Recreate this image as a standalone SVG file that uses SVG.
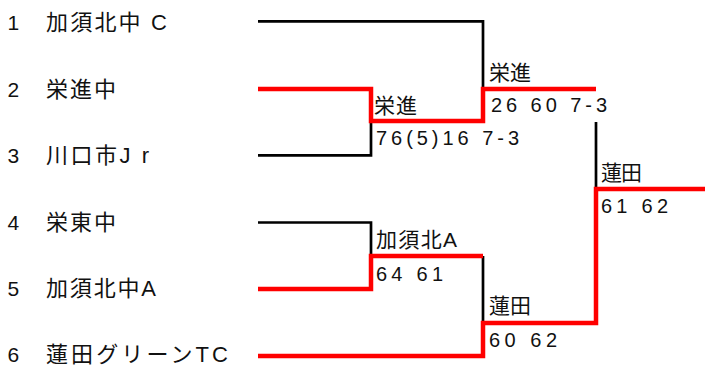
<svg xmlns="http://www.w3.org/2000/svg" width="705" height="367" viewBox="0 0 705 367">
<style>
text{font-family:"Liberation Sans","Noto Sans CJK JP",sans-serif;font-size:20px;fill:#111}
.num{font-size:21px}
.n{font-size:22px}
.k{font-size:21px}
.b{fill:none;stroke:#000;stroke-width:2.7}
.r{fill:none;stroke:#f00;stroke-width:4.5;stroke-linejoin:miter;stroke-linecap:butt}
</style>
<rect width="705" height="367" fill="#fff"/>
<g id="connectors">
<path class="b" d="M258,21.3 H483 V89"/>
<path class="b" d="M258,155.3 H371 V121"/>
<path class="b" d="M258,222.5 H371 V256"/>
<path class="b" d="M483,256 V323"/>
<path class="b" d="M596,122 V189"/>
<path class="r" d="M258,89 H371 V121 H483 V89 H596"/>
<path class="r" d="M258,289 H371 V256 H483"/>
<path class="r" d="M258,356 H483 V323 H596 V189 H705"/>
</g>
<g id="team1"><text class="num" x="7.5" y="30">1</text><text class="n" x="46" y="30" textLength="121" lengthAdjust="spacing">加須北中 C</text></g>
<g id="team2"><text class="num" x="7.5" y="96.5">2</text><text class="n" x="46" y="96.5" textLength="70" lengthAdjust="spacing">栄進中</text></g>
<g id="team3"><text class="num" x="7.5" y="163">3</text><text class="n" x="46" y="163" textLength="103" lengthAdjust="spacing">川口市J r</text></g>
<g id="team4"><text class="num" x="7.5" y="229.5">4</text><text class="n" x="46" y="229.5" textLength="70" lengthAdjust="spacing">栄東中</text></g>
<g id="team5"><text class="num" x="7.5" y="296">5</text><text class="n" x="46" y="296" textLength="110" lengthAdjust="spacing">加須北中A</text></g>
<g id="team6"><text class="num" x="7.5" y="362">6</text><text class="n" x="46" y="362" textLength="182" lengthAdjust="spacing">蓮田グリーンTC</text></g>
<g id="qf1"><text class="k" x="374" y="113" textLength="43" lengthAdjust="spacing">栄進</text><text x="376" y="145" textLength="143" lengthAdjust="spacing">76(5)16 7-3</text></g>
<g id="qf2"><text class="k" x="376" y="247" textLength="81" lengthAdjust="spacing">加須北A</text><text x="376" y="280.5" textLength="67" lengthAdjust="spacing">64 61</text></g>
<g id="sf1"><text class="k" x="489" y="80" textLength="42" lengthAdjust="spacing">栄進</text><text x="491" y="111.5" textLength="116" lengthAdjust="spacing">26 60 7-3</text></g>
<g id="sf2"><text class="k" x="489" y="313" textLength="42" lengthAdjust="spacing">蓮田</text><text x="489" y="347" textLength="68" lengthAdjust="spacing">60 62</text></g>
<g id="final"><text class="k" x="601" y="180" textLength="41" lengthAdjust="spacing">蓮田</text><text x="601" y="213" textLength="67" lengthAdjust="spacing">61 62</text></g>
</svg>
